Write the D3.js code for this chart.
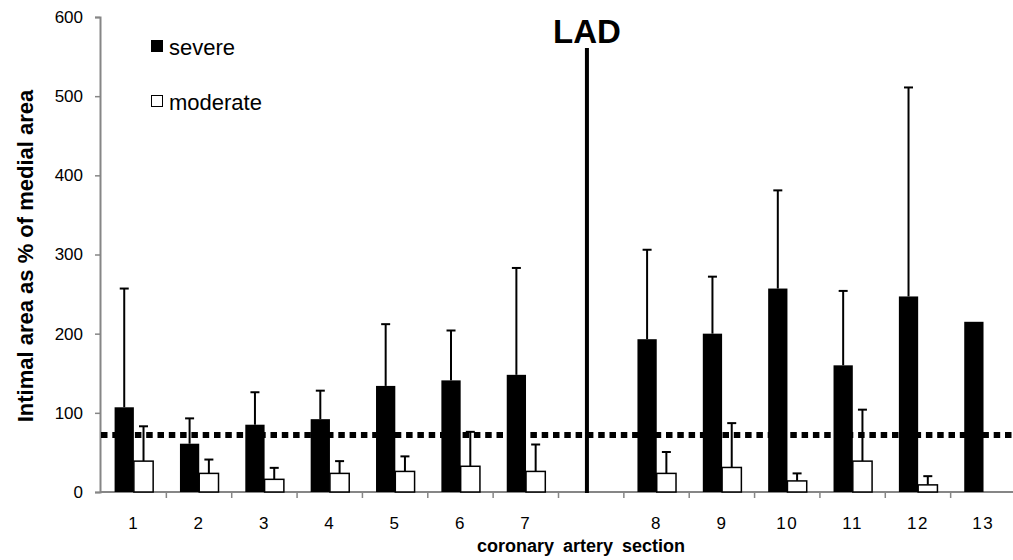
<!DOCTYPE html>
<html>
<head>
<meta charset="utf-8">
<script src="https://cdn.jsdelivr.net/npm/d3@7"></script>
<style>
  html, body { margin: 0; padding: 0; background: #fff; }
  svg { display: block; font-family: "Liberation Sans", Arial, sans-serif; }
</style>
</head>
<body>
<div id="chart"></div>
<script>
// coronary artery sections ("" is the gap where the LAD marker sits)
const sections = ["1", "2", "3", "4", "5", "6", "7", "", "8", "9", "10", "11", "12", "13"];

// intimal area as % of medial area (mean) and upper error (SD)
const severe      = [107, 61, 85, 92, 134, 141, 148, null, 193, 200, 257, 160, 247, 215];
const severeErr   = [150, 32, 41, 36, 78, 63, 135, null, 113, 72, 124, 94, 264, null];
const moderate    = [39, 23.5, 16, 23.5, 26, 32.5, 26, null, 23.5, 31, 14, 39, 9, null];
const moderateErr = [44, 17.5, 14.5, 15.5, 19, 43.5, 34, null, 27, 56, 9.5, 65, 11, null];

const yTicks = [0, 100, 200, 300, 400, 500, 600];
const threshold = 72;
const legendItems = ["severe", "moderate"];

const width = 1013, height = 560;
const font = '"Liberation Sans", Arial, sans-serif';

const svg = d3.select("#chart").append("svg")
    .attr("width", width)
    .attr("height", height);

// Scales
const x = d3.scaleBand()
    .domain(sections)
    .range([101, 1016])
    .padding(0);

const y = d3.scaleLinear()
    .domain([0, 600])
    .range([492, 17]);

const bw = x.bandwidth();
const barW = bw * 0.295;
const barOff = bw * 0.208;

// build rows
const rows = sections.map((s, i) => ({
    section: s,
    severe: severe[i], severeErr: severeErr[i],
    moderate: moderate[i], moderateErr: moderateErr[i]
}));

// Y axis
const yAxis = svg.append("g")
    .attr("transform", `translate(${x.range()[0] - 1},0)`)
    .call(d3.axisLeft(y).tickValues(yTicks).tickSize(5).tickPadding(12));
yAxis.select(".domain").attr("stroke", "#868686").attr("stroke-width", 2);
yAxis.selectAll(".tick line").attr("stroke", "#868686").attr("stroke-width", 1.5);
yAxis.selectAll("text")
    .style("font-family", font)
    .style("font-size", "17px")
    .attr("fill", "#000");

// X axis line
svg.append("line")
    .attr("x1", x.range()[0] - 1)
    .attr("x2", width)
    .attr("y1", y(0))
    .attr("y2", y(0))
    .attr("stroke", "#868686")
    .attr("stroke-width", 2);

// X boundary ticks
svg.selectAll(".xtick")
    .data(sections.slice(1))
    .enter()
    .append("line")
    .attr("class", "xtick")
    .attr("x1", d => x(d === "" ? "" : d))
    .attr("x2", d => x(d === "" ? "" : d))
    .attr("y1", y(0))
    .attr("y2", y(0) + 6)
    .attr("stroke", "#868686")
    .attr("stroke-width", 1.5);

// X labels
const xAxis = svg.append("g")
    .attr("transform", `translate(0,${y(0)})`)
    .call(d3.axisBottom(x).tickSize(0).tickPadding(25));
xAxis.select(".domain").remove();
xAxis.selectAll("text")
    .style("font-family", font)
    .style("font-size", "17px")
    .style("letter-spacing", "1.5px")
    .attr("fill", "#000");

// Error bars (upper only)
function errBars(key, errKey, offset) {
    const data = rows.filter(d => d[key] != null && d[errKey] != null);
    const cx = d => x(d.section) + offset + barW / 2;
    svg.selectAll(".err-" + key)
        .data(data)
        .enter()
        .append("line")
        .attr("x1", cx)
        .attr("x2", cx)
        .attr("y1", d => y(d[key]))
        .attr("y2", d => y(d[key] + d[errKey]))
        .attr("stroke", "#000")
        .attr("stroke-width", 2);
    svg.selectAll(".cap-" + key)
        .data(data)
        .enter()
        .append("line")
        .attr("x1", d => cx(d) - 4.5)
        .attr("x2", d => cx(d) + 4.5)
        .attr("y1", d => y(d[key] + d[errKey]))
        .attr("y2", d => y(d[key] + d[errKey]))
        .attr("stroke", "#000")
        .attr("stroke-width", 2);
}
errBars("severe", "severeErr", barOff);
errBars("moderate", "moderateErr", barOff + barW);

// Bars
svg.selectAll(".bar-severe")
    .data(rows.filter(d => d.severe != null))
    .enter()
    .append("rect")
    .attr("x", d => x(d.section) + barOff)
    .attr("y", d => y(d.severe))
    .attr("width", barW)
    .attr("height", d => y(0) - y(d.severe))
    .attr("fill", "#000");

svg.selectAll(".bar-moderate")
    .data(rows.filter(d => d.moderate != null))
    .enter()
    .append("rect")
    .attr("x", d => x(d.section) + barOff + barW)
    .attr("y", d => y(d.moderate))
    .attr("width", barW)
    .attr("height", d => y(0) - y(d.moderate))
    .attr("fill", "#fff")
    .attr("stroke", "#000")
    .attr("stroke-width", 1.5);

// Dotted threshold line
svg.append("line")
    .attr("x1", x.range()[0])
    .attr("x2", x.range()[1])
    .attr("y1", y(threshold))
    .attr("y2", y(threshold))
    .attr("stroke", "#000")
    .attr("stroke-width", 6)
    .attr("stroke-dasharray", "6.5,4.8");

// LAD marker
const ladX = x("") + bw * 0.435;
svg.append("line")
    .attr("x1", ladX)
    .attr("x2", ladX)
    .attr("y1", 48)
    .attr("y2", y(0) + 1)
    .attr("stroke", "#000")
    .attr("stroke-width", 4);

svg.append("text")
    .attr("x", ladX)
    .attr("y", 43)
    .attr("text-anchor", "middle")
    .style("font-family", font)
    .style("font-size", "33px")
    .style("font-weight", "bold")
    .text("LAD");

// Legend
const legend = svg.append("g").attr("transform", "translate(151,40)");
legendItems.forEach((name, i) => {
    const g = legend.append("g").attr("transform", `translate(0,${i * 55})`);
    g.append("rect")
        .attr("x", 0.5)
        .attr("y", 0.5)
        .attr("width", 11)
        .attr("height", 11)
        .attr("fill", i === 0 ? "#000" : "#fff")
        .attr("stroke", "#000")
        .attr("stroke-width", 1);
    g.append("text")
        .attr("x", 18)
        .attr("y", 14.5)
        .style("font-family", font)
        .style("font-size", "22px")
        .text(name);
});

// Axis titles
svg.append("text")
    .attr("transform", "rotate(-90)")
    .attr("x", -256)
    .attr("y", 33)
    .attr("text-anchor", "middle")
    .style("font-family", font)
    .style("font-size", "22px")
    .style("font-weight", "bold")
    .text("Intimal area as % of medial area");

svg.append("text")
    .attr("x", 581)
    .attr("y", 552)
    .attr("text-anchor", "middle")
    .style("font-family", font)
    .style("font-size", "18px")
    .style("font-weight", "bold")
    .style("word-spacing", "4px")
    .text("coronary artery section");
</script>
</body>
</html>
